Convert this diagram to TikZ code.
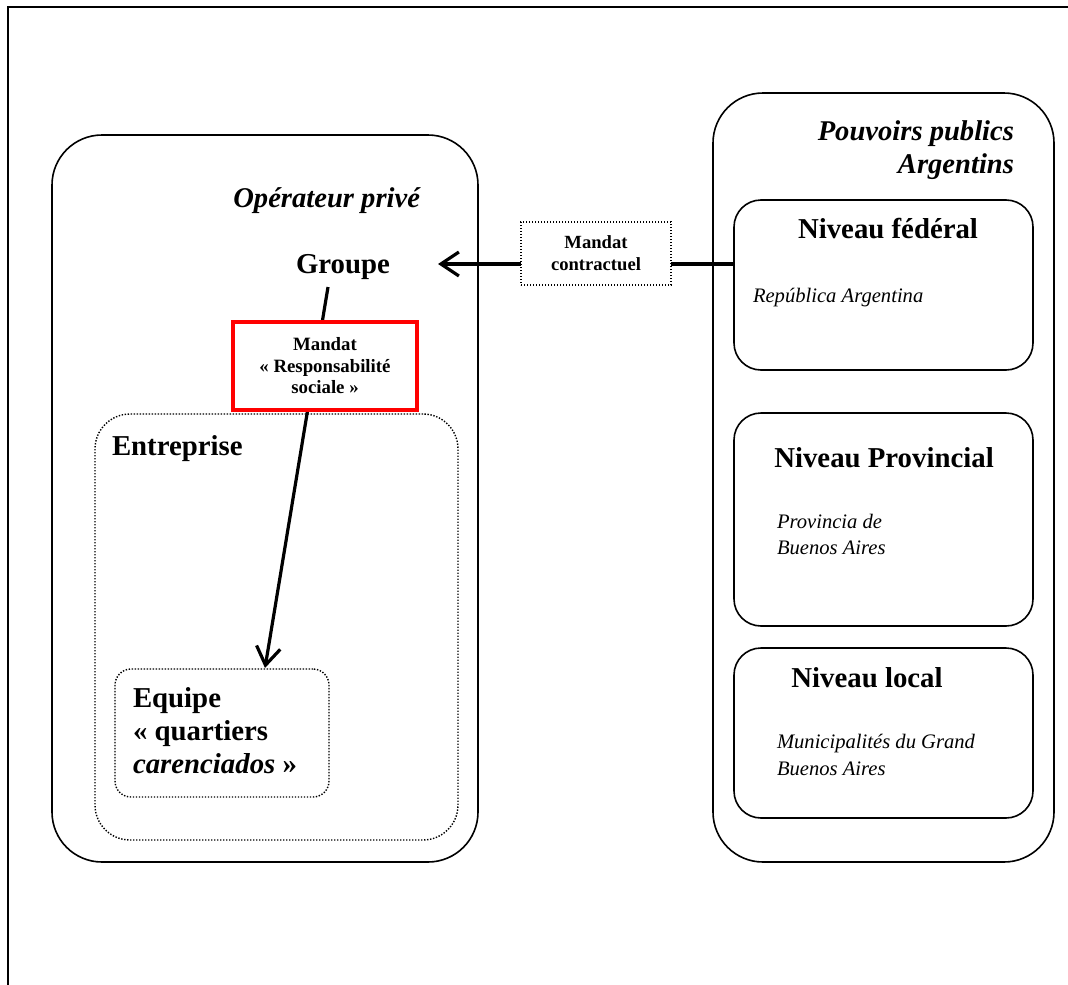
\documentclass[tikz,border=0pt]{standalone}
\usepackage{fontspec}
\setmainfont{Liberation Serif}
\usetikzlibrary{arrows.meta}
\begin{document}
\begin{tikzpicture}[x=1pt,y=-1pt,
  box/.style={draw, line width=1.6pt, inner sep=0pt, outer sep=0pt, rectangle},
  dotbox/.style={draw, line width=1.4pt, dash pattern=on 1.4pt off 1.6pt, inner sep=0pt, outer sep=0pt, rectangle},
  redbox/.style={draw=red, line width=4pt, fill=white, inner sep=0pt, outer sep=0pt, rectangle},
  bigb/.style={font=\fontsize{28.8}{34}\selectfont\bfseries, inner sep=0pt, outer sep=0pt},
  bigbi/.style={font=\fontsize{28.6}{34}\selectfont\bfseries\itshape, inner sep=0pt, outer sep=0pt},
  smalli/.style={font=\fontsize{20.6}{26}\selectfont\itshape, inner sep=0pt, outer sep=0pt},
  conn/.style={line width=3.2pt},
  tipped/.style={-{Straight Barb[length=18pt,width=24pt]}}
]
\useasboundingbox (0,0) rectangle (1068,985);
% frame
\draw[line width=2pt] (7.5,985) -- (7.5,6.5) -- (1068,6.5);

% big containers
\node[box, rounded corners=50pt, minimum width=426pt, minimum height=727pt] (op) at (265,498.5) {};
\node[box, rounded corners=50pt, minimum width=341pt, minimum height=769pt] (pp) at (883.5,477.5) {};
\node[box, rounded corners=27pt, minimum width=299pt, minimum height=170pt] (fed) at (883.5,285) {};
\node[box, rounded corners=27pt, minimum width=299pt, minimum height=213pt] (prov) at (883.5,519.5) {};
\node[box, rounded corners=27pt, minimum width=299pt, minimum height=170pt] (loc) at (883.5,733) {};
\node[dotbox, rounded corners=35pt, minimum width=363pt, minimum height=426pt] (ent) at (276.5,627) {};
\node[dotbox, rounded corners=16pt, minimum width=214pt, minimum height=128pt] (eq) at (222,733) {};

% texts left
\node[bigbi, anchor=base east] (opt) at (420,207) {Opérateur privé};
\node[bigb, anchor=base] (grp) at (343,273) {Groupe};
\node[bigb, anchor=base west] (entt) at (112,455) {Entreprise};
\node[bigb, anchor=base west] (eq1) at (133,707) {Equipe};
\node[bigb, anchor=base west] (eq2) at (133,740) {«~quartiers};
\node[bigb, anchor=base west] (eq3) at (133,773) {\textit{carenciados}~»};

% texts right
\node[bigbi, anchor=base east] (pp1) at (1014,140) {Pouvoirs publics};
\node[bigbi, anchor=base east] (pp2) at (1014,173) {Argentins};
\node[bigb, anchor=base] (nf) at (888,238) {Niveau fédéral};
\node[smalli, anchor=base west] (ra) at (753,302) {República Argentina};
\node[bigb, anchor=base] (np) at (884,467) {Niveau Provincial};
\node[smalli, anchor=base west] (pr1) at (777,528) {Provincia de};
\node[smalli, anchor=base west] (pr2) at (777,554) {Buenos Aires};
\node[bigb, anchor=base] (nl) at (867,687) {Niveau local};
\node[smalli, anchor=base west] (mu1) at (777,748) {Municipalités du Grand};
\node[smalli, anchor=base west] (mu2) at (777,775) {Buenos Aires};

% connector coordinates
\coordinate (ly) at (0,264);
\coordinate (gtip) at (438,264);
\coordinate (gs) at (328,287);
\coordinate (etip) at (265,668);

% mandat contractuel
\node[dotbox, fill=white, minimum width=150pt, minimum height=63pt, align=center,
      font=\fontsize{18.6}{22}\selectfont\bfseries] (mc) at (596,253.5) {Mandat\\contractuel};
\draw[conn] (mc.east |- ly) -- (fed.west |- ly);
\draw[conn, tipped] (mc.west |- ly) -- (gtip);

% groupe -> equipe
\draw[conn, tipped] (gs) -- (etip);
\node[redbox, minimum width=184pt, minimum height=88pt, align=center,
      font=\fontsize{18.8}{21.5}\selectfont\bfseries] (rs) at (325,366) {Mandat\\«~Responsabilité\\sociale~»};
\end{tikzpicture}
\end{document}
